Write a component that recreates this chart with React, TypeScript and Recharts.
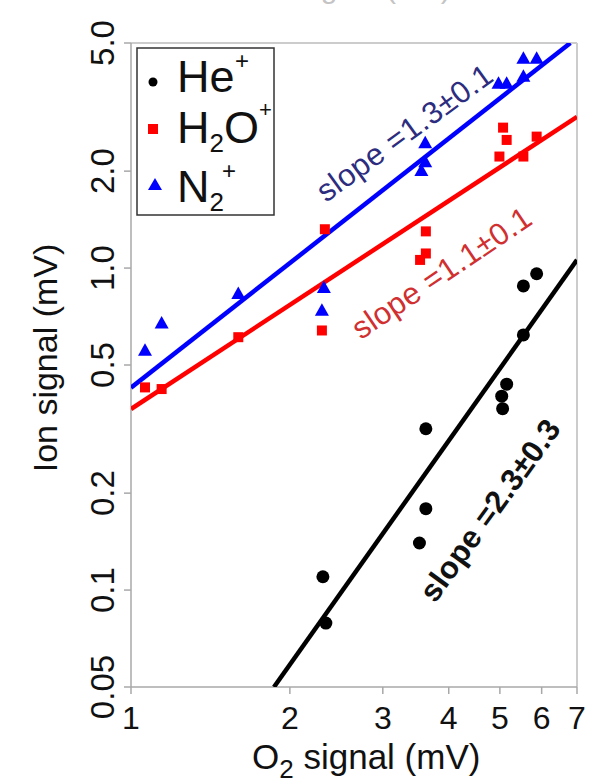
import React from 'react';
import { ScatterChart, Scatter, XAxis, YAxis, ReferenceLine } from 'recharts';

const FONT = '"Liberation Sans", Arial, Helvetica, sans-serif';

// He+ data (O2 signal, ion signal)
const heX = [2.31, 2.34, 3.62, 3.62, 3.52, 5.04, 5.15, 5.06, 5.54, 5.54, 5.87];
const heY = [0.11, 0.079, 0.317, 0.179, 0.14, 0.4, 0.436, 0.366, 0.62, 0.88, 0.96];
// H2O+ data
const h2oX = [1.063, 1.143, 1.597, 2.33, 2.3, 3.62, 3.62, 3.53, 5.07, 5.15, 4.99, 5.54, 5.87];
const h2oY = [0.426, 0.421, 0.61, 1.32, 0.64, 1.3, 1.11, 1.06, 2.73, 2.5, 2.22, 2.22, 2.56];
// N2+ data
const n2X = [1.063, 1.143, 1.597, 2.32, 2.3, 3.61, 3.55, 3.61, 4.97, 5.15, 5.54, 5.87, 5.54];
const n2Y = [0.556, 0.675, 0.834, 0.87, 0.74, 2.45, 2.01, 2.14, 3.75, 3.75, 4.48, 4.48, 3.94];

// Fit lines (end points)
const n2FitX = [1.0, 6.8];
const n2FitY = [0.425, 5.0];
const h2oFitX = [1.0, 7.0];
const h2oFitY = [0.365, 2.95];
const heFitX = [1.866, 7.0];
const heFitY = [0.05, 1.06];

// Slope annotations
const annoText = ['slope =1.3\u00b10.1', 'slope =1.1\u00b10.1', 'slope =2.3\u00b10.3'];
const annoX = [3.3, 3.88, 4.79];
const annoY = [2.63, 0.966, 0.177];

const xTicks = [1, 2, 3, 4, 5, 6, 7];
const yTicks = [0.05, 0.1, 0.2, 0.5, 1, 2, 5];
const yTickLabels = ['0.05', '0.1', '0.2', '0.5', '1.0', '2.0', '5.0'];

const zip = (xs: number[], ys: number[]) => xs.map((x, i) => ({ x, y: ys[i] }));

const CircleShape = (p: any) => <circle cx={p.cx} cy={p.cy} r={6.5} fill="#000" />;
const SquareShape = (p: any) => (
  <rect x={p.cx - 5} y={p.cy - 5} width={10} height={10} fill="#ff0000" />
);
const TriShape = (p: any) => (
  <polygon
    points={`${p.cx},${p.cy - 7} ${p.cx - 7},${p.cy + 5.5} ${p.cx + 7},${p.cy + 5.5}`}
    fill="#0000ff"
  />
);
const EmptyShape = () => <g />;

const makeAnno = (text: string, color: string, angle: number, weight: any) => (p: any) => (
  <text
    x={p.cx}
    y={p.cy}
    fill={color}
    fontSize={31}
    fontFamily={FONT}
    fontWeight={weight}
    letterSpacing={0.4}
    textAnchor="middle"
    dominantBaseline="central"
    transform={`rotate(${-angle}, ${p.cx}, ${p.cy})`}
  >
    {text}
  </text>
);

const XTick = (p: any) => (
  <text x={p.x} y={729} textAnchor="middle" fontSize={32} fontFamily={FONT} fill="#111">
    {String(p.payload.value)}
  </text>
);

const YTick = (p: any) => {
  const i = yTicks.indexOf(p.payload.value);
  const lbl = i >= 0 ? yTickLabels[i] : String(p.payload.value);
  const bx = 114;
  return (
    <text
      x={bx}
      y={p.y}
      textAnchor="middle"
      fontSize={33}
      fontFamily={FONT}
      fill="#111"
      transform={`rotate(-90, ${bx}, ${p.y})`}
    >
      {lbl}
    </text>
  );
};

export default function App() {
  return (
    <div style={{ position: 'absolute', left: 0, top: 0, width: 595, height: 779, background: '#fff' }}>
      <ScatterChart width={595} height={779} margin={{ top: 43, right: 18, bottom: 0, left: 0 }}>
        <XAxis
          type="number"
          dataKey="x"
          scale="log"
          domain={[1, 7]}
          ticks={xTicks}
          interval={0}
          allowDataOverflow
          height={92}
          tickSize={7}
          stroke="#a8a8a8"
          strokeWidth={1.5}
          tick={<XTick />}
        />
        <YAxis
          type="number"
          dataKey="y"
          scale="log"
          domain={[0.05, 5]}
          ticks={yTicks}
          interval={0}
          allowDataOverflow
          width={131}
          tickSize={7}
          stroke="#a8a8a8"
          strokeWidth={1.5}
          tick={<YTick />}
        />
        <ReferenceLine y={5} stroke="#cccccc" strokeWidth={2} />
        <ReferenceLine x={7} stroke="#cccccc" strokeWidth={2} />
        <Scatter data={zip(n2FitX, n2FitY)} line={{ stroke: '#0000ff', strokeWidth: 4.5 }} shape={EmptyShape} isAnimationActive={false} />
        <Scatter data={zip(h2oFitX, h2oFitY)} line={{ stroke: '#ff0000', strokeWidth: 4.5 }} shape={EmptyShape} isAnimationActive={false} />
        <Scatter data={zip(heFitX, heFitY)} line={{ stroke: '#000000', strokeWidth: 4.5 }} shape={EmptyShape} isAnimationActive={false} />
        <Scatter data={zip(n2X, n2Y)} shape={TriShape} isAnimationActive={false} />
        <Scatter data={zip(h2oX, h2oY)} shape={SquareShape} isAnimationActive={false} />
        <Scatter data={zip(heX, heY)} shape={CircleShape} isAnimationActive={false} />
        <Scatter data={[{ x: annoX[0], y: annoY[0] }]} shape={makeAnno(annoText[0], '#2d2d80', 36, 'normal')} isAnimationActive={false} />
        <Scatter data={[{ x: annoX[1], y: annoY[1] }]} shape={makeAnno(annoText[1], '#d03030', 34, 'normal')} isAnimationActive={false} />
        <Scatter data={[{ x: annoX[2], y: annoY[2] }]} shape={makeAnno(annoText[2], '#111111', 54, 'bold')} isAnimationActive={false} />
      </ScatterChart>
      <svg
        width={595}
        height={779}
        style={{ position: 'absolute', left: 0, top: 0, pointerEvents: 'none' }}
        fontFamily={FONT}
      >
        <text x={350} y={-2} textAnchor="middle" fontSize={30} fill="#c4c4c4">Ion signal (mV)</text>
        <text
          x={57}
          y={358}
          textAnchor="middle"
          fontSize={34}
          fill="#111"
          transform="rotate(-90, 57, 358)"
        >
          Ion signal (mV)
        </text>
        <text x={252} y={769} fontSize={35} fill="#111">
          O<tspan fontSize={26} dy={9}>2</tspan>
          <tspan dy={-9}> signal (mV)</tspan>
        </text>
        <rect x={137} y={48} width={137} height={167} fill="#fff" stroke="#333" strokeWidth={1.5} />
        <circle cx={153} cy={82} r={4.5} fill="#000" />
        <text x={177} y={92} fontSize={45} fill="#111">He</text>
        <text x={235} y={69} fontSize={24} fill="#111">+</text>
        <rect x={148} y={124} width={10} height={10} fill="#ff0000" />
        <text x={177} y={143} fontSize={45} fill="#111">
          H<tspan fontSize={26} dy={9}>2</tspan>
          <tspan dy={-9}>O</tspan>
        </text>
        <text x={259} y={117} fontSize={22} fill="#111">+</text>
        <polygon points="155,178 148,190 162,190" fill="#0000ff" />
        <text x={177} y={202} fontSize={45} fill="#111">
          N<tspan fontSize={26} dy={9}>2</tspan>
        </text>
        <text x={222} y={179} fontSize={24} fill="#111">+</text>
      </svg>
    </div>
  );
}
